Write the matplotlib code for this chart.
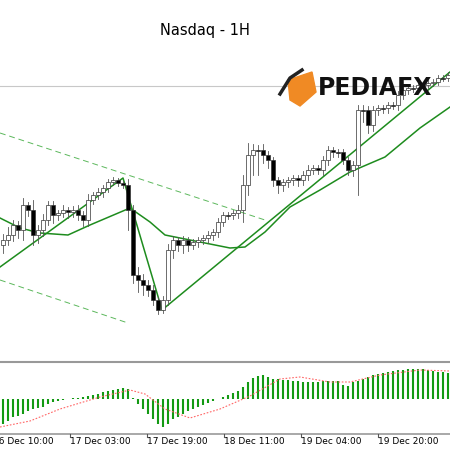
import matplotlib
matplotlib.use("Agg")
import matplotlib.pyplot as plt
from matplotlib.patches import Polygon

# candle closes, read as chart levels (pixel rows, smaller = higher price)
closes = [240, 235, 225, 230, 205, 210, 235, 230, 220, 205, 215, 213, 210, 212, 210,
          215, 220, 200, 195, 192, 188, 182, 180, 183, 185, 210, 275, 280, 285, 290,
          300, 310, 300, 250, 240, 245, 240, 245, 242, 240, 238, 235, 232, 222, 215,
          215, 213, 210, 185, 155, 150, 150, 155, 160, 180, 185, 182, 180, 178, 180,
          175, 170, 168, 170, 160, 150, 152, 152, 160, 170, 165, 110, 110, 125, 110,
          108, 108, 105, 105, 95, 90, 88, 88, 85, 85, 83, 82, 78, 78, 75]
wick_up = [6, 8, 5, 4, 7, 3, 10, 5, 6, 4, 4, 3, 5, 3, 4, 5, 4, 6, 3, 4, 3, 3, 3, 2, 2, 6, 5, 8, 6, 5,
           5, 3, 4, 6, 4, 3, 4, 3, 3, 3, 3, 4, 3, 4, 3, 3, 3, 5, 10, 12, 6, 5, 6, 4, 3, 3, 3, 3, 3, 3,
           4, 5, 3, 3, 4, 4, 3, 3, 3, 3, 4, 5, 5, 4, 4, 3, 3, 3, 3, 4, 3, 3, 3, 3, 3, 3, 3, 3, 3, 3]
wick_dn = [8, 5, 6, 8, 10, 6, 10, 8, 6, 5, 8, 5, 4, 6, 5, 5, 6, 6, 4, 4, 5, 4, 3, 3, 3, 20, 8, 12, 10, 6,
           5, 4, 3, 5, 8, 6, 8, 6, 4, 5, 4, 5, 5, 5, 4, 4, 4, 5, 12, 10, 20, 25, 8, 8, 6, 8, 6, 5, 5, 6,
           5, 5, 4, 4, 5, 5, 5, 5, 4, 5, 6, 30, 12, 8, 6, 5, 5, 5, 4, 5, 4, 4, 4, 3, 3, 3, 3, 3, 3, 3]
first_open = 245

# histogram (up = positive) and signal line
hist = [-25, -22, -18, -17, -15, -12, -10, -9, -8, -5, -3, -2, -1, 0.5, 1, 1.5, 2, 3, 4, 5, 7, 8,
        9, 10, 11, 10, 1, -5, -10, -15, -20, -25, -28, -25, -20, -18, -15, -12, -10, -8, -6, -4,
        -2, 0.5, 2, 4, 6, 8, 12, 17, 21, 23, 24, 22, 20, 20, 19, 19, 18, 18, 17, 17, 17, 17, 18,
        18, 18, 18, 14, 13, 17, 18, 20, 22, 24, 25, 26, 27, 28, 29, 29, 30, 30, 30, 30, 29, 28,
        27, 27, 26]
sig_x = [0, 30, 60, 100, 130, 145, 165, 190, 220, 250, 280, 300, 330, 350, 380, 420, 450]
sig_y = [-28, -22, -10, 2, 9, 5, -10, -19, -10, 3, 20, 22, 17, 17, 24, 29, 28]

zig_x = [0, 123, 162, 450]
zig_y = [267, 178, 310, 72]
ma_x = [0, 20, 40, 68, 90, 130, 150, 165, 200, 230, 245, 265, 290, 320, 350, 385, 420, 450]
ma_y = [218, 228, 233, 235, 225, 208, 222, 235, 242, 248, 247, 232, 207, 190, 172, 157, 128, 107]

tick_labels = ["16 Dec 10:00", "17 Dec 03:00", "17 Dec 19:00", "18 Dec 11:00",
               "19 Dec 04:00", "19 Dec 20:00"]
tick_x = [-7, 70, 147, 224, 301, 378]

fig = plt.figure(figsize=(4.5, 4.5), dpi=100)
ax = fig.add_axes([0, 0, 1, 1])
ax.set_xlim(0, 450)
ax.set_ylim(450, 0)
ax.axis("off")

ax.text(205, 30, "Nasdaq - 1H", ha="center", va="center", fontsize=10.5,
        family="DejaVu Sans")
ax.plot([0, 450], [86, 86], color="#c8c8c8", lw=0.8)

# channel
ax.plot([0, 265], [133, 220], color="#5cb85c", lw=0.7, dashes=(6, 4))
ax.plot([0, 128], [280, 323], color="#5cb85c", lw=0.7, dashes=(6, 4))

ax.plot(ma_x, ma_y, color="#1e8c1e", lw=1.1)
ax.plot(zig_x, zig_y, color="#1e8c1e", lw=1.1)

prev = first_open
for i, c in enumerate(closes):
    x = 3 + 5 * i
    o = prev
    hi = min(o, c) - wick_up[i]
    lo = max(o, c) + wick_dn[i]
    ax.plot([x, x], [hi, lo], color="#555555", lw=0.6, zorder=3)
    bull = c < o
    top, bot = min(o, c), max(o, c)
    ax.add_patch(plt.Rectangle((x - 1.6, top), 3.2, max(bot - top, 0.8),
                               facecolor="white" if bull else "black",
                               edgecolor="#333333", lw=0.5, zorder=4))
    prev = c

# logo
ax.add_patch(Polygon([[288, 80], [312, 72], [316, 92], [300, 106], [290, 100]],
                     closed=True, color="#f08a24", zorder=5))
ax.plot([280, 290, 302], [94, 78, 70], color="#222222", lw=2.5, zorder=6)
ax.text(318, 88, "PEDIAFX", fontsize=17, fontweight="bold", va="center", ha="left",
        family="DejaVu Sans", color="#111111", zorder=6)

# lower panel
ax.plot([0, 450], [362, 362], color="#999999", lw=1.5)
ax.plot([0, 450], [434, 434], color="#999999", lw=1.2)
zero = 399
for i, h in enumerate(hist):
    x = 3 + 5 * i
    ax.plot([x, x], [zero, zero - h], color="#139a13", lw=1.5, solid_capstyle="butt")
ax.plot(sig_x, [zero - v for v in sig_y], color="#ff6666", lw=0.8, ls=(0, (1.5, 1.5)))

for tx, lab in zip(tick_x, tick_labels):
    if tx > 0:
        ax.plot([tx, tx], [434, 437], color="#555555", lw=0.8)
    ax.text(tx, 442, lab, fontsize=6.5, ha="left", va="center", family="DejaVu Sans")

fig.savefig("out.png", dpi=100)
